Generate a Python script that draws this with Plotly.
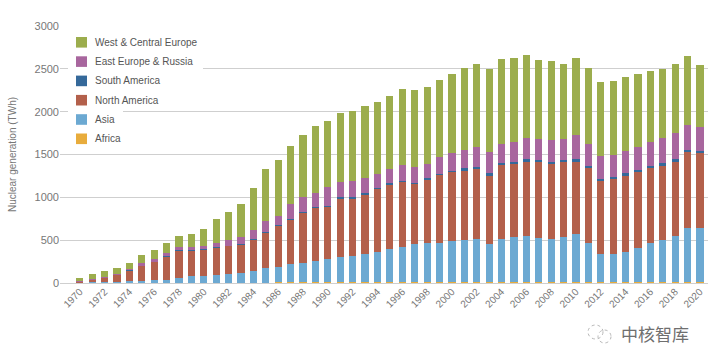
import plotly.graph_objects as go

years = list(range(1970, 2021))

africa = [0, 0, 0, 0, 0, 0, 0, 0, 0, 0, 0, 0, 0, 0, 5, 5, 9, 7, 11, 11,
          8, 9, 10, 7, 9, 11, 12, 12, 14, 13, 13, 11, 12, 13, 14, 12, 10, 12, 13, 12,
          12, 13, 12, 14, 14, 11, 15, 15, 10, 14, 12]
asia = [5, 8, 10, 12, 18, 25, 35, 40, 55, 80, 85, 95, 105, 118, 135, 166, 182, 218, 219, 250,
        272, 291, 305, 331, 351, 386, 408, 443, 456, 459, 481, 491, 498, 437, 500, 529, 539, 518, 501, 521,
        556, 457, 326, 321, 351, 401, 455, 487, 539, 624, 633]
north_america = [11, 35, 56, 89, 133, 183, 212, 273, 322, 297, 308, 322, 328, 333, 364, 419, 480, 516, 589, 617,
                 614, 691, 676, 700, 741, 757, 762, 705, 742, 789, 805, 817, 829, 809, 864, 859, 874, 887, 882, 883,
                 855, 875, 855, 887, 895, 886, 877, 874, 874, 891, 876]
south_america = [0, 0, 0, 0, 1, 2, 2, 2, 3, 3, 2, 3, 2, 4, 6, 9, 6, 6, 6, 6,
                 9, 9, 9, 8, 9, 9, 9, 11, 10, 11, 12, 20, 19, 21, 19, 16, 21, 19, 20, 20,
                 21, 21, 21, 19, 20, 21, 23, 21, 21, 24, 24]
east_europe = [4, 5, 6, 9, 13, 20, 26, 30, 35, 40, 40, 45, 65, 78, 105, 128, 109, 175, 175, 170,
               214, 183, 195, 184, 159, 168, 183, 180, 167, 195, 210, 213, 233, 246, 225, 233, 252, 243, 253, 241,
               283, 256, 268, 253, 261, 272, 280, 292, 303, 291, 280]
west_europe = [35, 53, 68, 69, 72, 97, 110, 118, 134, 152, 195, 282, 325, 389, 498, 600, 654, 674, 724, 775,
               771, 805, 813, 840, 844, 855, 891, 906, 903, 903, 919, 954, 962, 969, 990, 974, 965, 928, 927, 879,
               903, 892, 860, 864, 860, 845, 825, 805, 813, 810, 723]

series_names = ["Africa", "Asia", "North America", "South America",
                "East Europe & Russia", "West & Central Europe"]
series_values = [africa, asia, north_america, south_america, east_europe, west_europe]
series_colors = ["#E8AC3C", "#6CA9D2", "#B3604B", "#35699A", "#A8669E", "#9CAD4D"]

tick_years = list(range(1970, 2021, 2))
y_ticks = [0, 500, 1000, 1500, 2000, 2500, 3000]

# plot-area geometry in pixels (for placing the hand-drawn legend)
W, H = 716, 350
ML, MR, MT, MB = 60, 8, 26, 67
PW, PH = W - ML - MR, H - MT - MB


def px_x(px):
    return (px - ML) / PW


def px_y(py):
    return (H - MB - py) / PH


fig = go.Figure()
for name, vals, col in zip(series_names, series_values, series_colors):
    fig.add_trace(go.Bar(x=years, y=vals, name=name, marker=dict(color=col, line=dict(width=0)),
                         width=0.58, showlegend=False))

shapes = []
annotations = []
# custom legend (top item first)
legend_rows = list(zip(series_names, series_colors))[::-1]
row_y0, row_step = 42.3, 19.3
text_w = {"West & Central Europe": 104, "East Europe & Russia": 100, "South America": 68,
          "North America": 66, "Asia": 20, "Africa": 27}
for i, (name, col) in enumerate(legend_rows):
    cy = row_y0 + i * row_step
    # white background behind the item (interrupts gridlines as in the original)
    shapes.append(dict(type="rect", xref="paper", yref="paper",
                       x0=px_x(68), x1=px_x(93 + text_w[name] + 10),
                       y0=px_y(cy + 9.5), y1=px_y(cy - 9.5),
                       fillcolor="white", line=dict(width=0), layer="above"))
    shapes.append(dict(type="rect", xref="paper", yref="paper",
                       x0=px_x(76), x1=px_x(87), y0=px_y(cy + 5.3), y1=px_y(cy - 5.3),
                       fillcolor=col, line=dict(width=0), layer="above"))
    annotations.append(dict(text=name, xref="paper", yref="paper", x=px_x(93), y=px_y(cy),
                            xanchor="left", yanchor="middle", showarrow=False,
                            font=dict(size=10, color="#555555")))

# watermark
annotations.append(dict(text="中核智库", xref="paper", yref="paper", x=px_x(619), y=px_y(333),
                        xanchor="left", yanchor="middle", showarrow=False,
                        font=dict(family="Noto Sans CJK SC", size=17, color="#6f6f6f")))
shapes.append(dict(type="circle", xref="paper", yref="paper", x0=px_x(588), x1=px_x(603),
                   y0=px_y(339), y1=px_y(325), line=dict(color="#b8b8b8", width=1, dash="dot")))
shapes.append(dict(type="circle", xref="paper", yref="paper", x0=px_x(598), x1=px_x(611),
                   y0=px_y(343), y1=px_y(330), line=dict(color="#b8b8b8", width=1, dash="dot")))

font_family = "Liberation Sans, Arial, sans-serif"
fig.update_layout(
    barmode="stack",
    width=W, height=H,
    margin=dict(l=ML, r=MR, t=MT, b=MB),
    paper_bgcolor="white", plot_bgcolor="white",
    font=dict(family=font_family, color="#666666", size=10),
    showlegend=False,
    xaxis=dict(
        range=[1968.4, 2020.65],
        tickmode="array", tickvals=tick_years, ticktext=[str(y) for y in tick_years],
        tickangle=-45, showgrid=False, showline=False, zeroline=False,
        tickfont=dict(size=10, color="#777777"), ticks="",
    ),
    yaxis=dict(
        range=[0, 3000], tickvals=y_ticks,
        showgrid=True, gridcolor="#cfcfcf", gridwidth=1,
        zeroline=True, zerolinecolor="#cfcfcf", zerolinewidth=1,
        showline=False, ticks="",
        tickfont=dict(size=11, color="#777777"),
        title=dict(text="Nuclear generation (TWh)", font=dict(size=10, color="#777777"), standoff=16),
    ),
    shapes=shapes,
    annotations=annotations,
)

fig.write_html("out.html")
